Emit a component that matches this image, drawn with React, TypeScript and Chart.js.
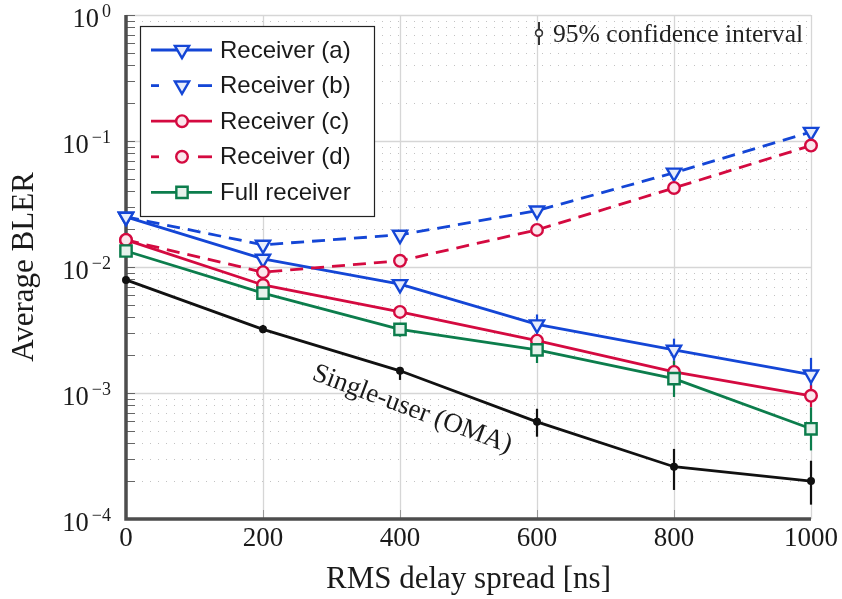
import { useEffect, useRef } from "react";
import { Chart, registerables } from "chart.js";
import { drawPoint } from "chart.js/helpers";

Chart.register(...registerables);

// RMS delay spread [ns]
const delaySpread = [0, 200, 400, 600, 800, 1000];
const xTickStep = 200;
const yDecades = [0, -1, -2, -3, -4];

// Average BLER per receiver
const receiverA = [0.025, 0.0116, 0.0073, 0.0035, 0.0022, 0.0014];
const receiverB = [0.025, 0.015, 0.018, 0.028, 0.056, 0.118];
const receiverC = [0.0164, 0.0072, 0.0044, 0.0026, 0.00147, 0.00095];
const receiverD = [0.0164, 0.0091, 0.0112, 0.0197, 0.0424, 0.092];
const fullReceiver = [0.0134, 0.0062, 0.0032, 0.0022, 0.0013, 0.00052];
const singleUser = [0.0079, 0.0032, 0.0015, 0.00059, 0.00026, 0.0002];

// 95% confidence intervals [low, high]
type CI = [number, number] | null;
const ciA: CI[] = [null, null, [0.0068, 0.0078], [0.0029, 0.0042], [0.0018, 0.0027], [0.00105, 0.0019]];
const ciB: CI[] = [null, null, null, null, null, null];
const ciC: CI[] = [null, null, null, [0.0023, 0.0029], [0.0012, 0.0018], [0.00077, 0.00115]];
const ciD: CI[] = [null, null, null, null, null, null];
const ciFull: CI[] = [null, null, [0.0028, 0.0036], [0.00173, 0.0027], [0.00093, 0.0018], [0.00035, 0.00077]];
const ciSingle: CI[] = [
  [0.0076, 0.0082],
  [0.0030, 0.00347],
  [0.00127, 0.00161],
  [0.00045, 0.00075],
  [0.00017, 0.00036],
  [0.00013, 0.00029],
];

const BLUE = "#1446d6";
const RED = "#d40a40";
const GREEN = "#0c7d4c";
const BLACK = "#111111";
const SERIF = "'Liberation Serif', 'DejaVu Serif', serif";
const SANS = "'Liberation Sans', 'DejaVu Sans', sans-serif";

type Series = {
  label: string;
  values: number[];
  ci: CI[];
  color: string;
  fill: string;
  dash: number[];
  pointStyle: string;
  rotation: number;
  radius: number;
  inLegend: boolean;
};

const series: Series[] = [
  { label: "Receiver (a)", values: receiverA, ci: ciA, color: BLUE, fill: "#e8edfb", dash: [], pointStyle: "triangle", rotation: 180, radius: 8.2, inLegend: true },
  { label: "Receiver (b)", values: receiverB, ci: ciB, color: BLUE, fill: "#e8edfb", dash: [13, 8], pointStyle: "triangle", rotation: 180, radius: 8.2, inLegend: true },
  { label: "Receiver (c)", values: receiverC, ci: ciC, color: RED, fill: "#fbe6ec", dash: [], pointStyle: "circle", rotation: 0, radius: 5.8, inLegend: true },
  { label: "Receiver (d)", values: receiverD, ci: ciD, color: RED, fill: "#fbe6ec", dash: [13, 8], pointStyle: "circle", rotation: 0, radius: 5.8, inLegend: true },
  { label: "Full receiver", values: fullReceiver, ci: ciFull, color: GREEN, fill: "#e6f2ec", dash: [], pointStyle: "rect", rotation: 0, radius: 8, inLegend: true },
  { label: "Single-user (OMA)", values: singleUser, ci: ciSingle, color: BLACK, fill: BLACK, dash: [], pointStyle: "circle", rotation: 0, radius: 2.8, inLegend: false },
];

function seg(ctx: CanvasRenderingContext2D, x1: number, y1: number, x2: number, y2: number) {
  ctx.beginPath();
  ctx.moveTo(x1, y1);
  ctx.lineTo(x2, y2);
  ctx.stroke();
}

const framePlugin = {
  id: "frame",
  beforeDatasetsDraw(chart: any) {
    const { ctx, chartArea: a } = chart;
    const xs = chart.scales.x;
    const ys = chart.scales.y;
    ctx.save();

    // minor dotted rows
    ctx.lineWidth = 1;
    ctx.strokeStyle = "#c2c2c2";
    ctx.setLineDash([1, 7]);
    for (const e of yDecades.slice(1)) {
      for (let m = 2; m <= 9; m++) {
        const py = Math.round(ys.getPixelForValue(m * Math.pow(10, e))) + 0.5;
        seg(ctx, a.left, py, a.right, py);
      }
    }
    ctx.setLineDash([]);

    // major grid
    ctx.strokeStyle = "#d6d6d6";
    ctx.lineWidth = 1.3;
    for (const e of yDecades) {
      const py = Math.round(ys.getPixelForValue(Math.pow(10, e))) + 0.5;
      seg(ctx, a.left, py, a.right, py);
    }
    for (let v = 0; v <= 1000; v += xTickStep) {
      const px = Math.round(xs.getPixelForValue(v)) + 0.5;
      seg(ctx, px, a.top, px, a.bottom);
    }

    // inner tick marks
    ctx.strokeStyle = "#666";
    ctx.lineWidth = 1;
    for (const e of yDecades) {
      for (let m = 1; m <= 9; m++) {
        const v = m * Math.pow(10, e);
        if (v > 1.0001) continue;
        const py = Math.round(ys.getPixelForValue(v)) + 0.5;
        seg(ctx, a.left, py, a.left + 9, py);
      }
    }
    ctx.strokeStyle = "#999";
    for (let v = xTickStep; v < 1000; v += xTickStep) {
      const px = Math.round(xs.getPixelForValue(v)) + 0.5;
      seg(ctx, px, a.bottom, px, a.bottom - 9);
    }

    // thick left and bottom axis lines
    ctx.strokeStyle = "#4d4d4d";
    ctx.lineWidth = 3.5;
    ctx.lineCap = "butt";
    ctx.beginPath();
    ctx.moveTo(a.left, a.top);
    ctx.lineTo(a.left, a.bottom);
    ctx.lineTo(a.right, a.bottom);
    ctx.stroke();

    // confidence intervals
    ctx.lineWidth = 2.2;
    for (const s of series) {
      ctx.strokeStyle = s.color;
      s.ci.forEach((c, i) => {
        if (!c) return;
        const px = xs.getPixelForValue(delaySpread[i]);
        seg(ctx, px, ys.getPixelForValue(c[0]), px, ys.getPixelForValue(c[1]));
      });
    }
    ctx.restore();
  },
  afterDatasetsDraw(chart: any) {
    const { ctx } = chart;
    const xs = chart.scales.x;
    const ys = chart.scales.y;
    ctx.save();

    // legend
    const lx = 140, ly = 26, lw = 234, lh = 190;
    ctx.fillStyle = "#fff";
    ctx.fillRect(lx, ly, lw, lh);
    ctx.strokeStyle = "#222";
    ctx.lineWidth = 1.2;
    ctx.strokeRect(lx + 0.5, ly + 0.5, lw, lh);
    const rows = series.filter((s) => s.inLegend);
    rows.forEach((s, i) => {
      const ry = 50 + i * 35.6;
      ctx.strokeStyle = s.color;
      ctx.lineWidth = 2.8;
      if (s.dash.length) {
        seg(ctx, 151, ry, 159, ry);
        seg(ctx, 198, ry, 212, ry);
      } else {
        seg(ctx, 151, ry, 212, ry);
      }
      ctx.fillStyle = s.fill;
      ctx.lineWidth = 2.4;
      drawPoint(ctx, { pointStyle: s.pointStyle as any, rotation: s.rotation, radius: s.radius, borderWidth: 2.4 } as any, 182, ry);
      ctx.fillStyle = "#1a1a1a";
      ctx.font = `24px ${SANS}`;
      ctx.textAlign = "left";
      ctx.textBaseline = "middle";
      ctx.fillText(s.label, 220, ry + 1);
    });

    // confidence interval note
    ctx.strokeStyle = "#333";
    ctx.lineWidth = 2;
    seg(ctx, 539, 22, 539, 45);
    ctx.fillStyle = "#fff";
    ctx.lineWidth = 1.6;
    ctx.beginPath();
    ctx.arc(539, 33, 3.4, 0, Math.PI * 2);
    ctx.fill();
    ctx.stroke();
    ctx.fillStyle = "#222";
    ctx.font = `25.6px ${SERIF}`;
    ctx.textAlign = "left";
    ctx.textBaseline = "alphabetic";
    ctx.fillText("95% confidence interval", 553, 42);

    // label along the single-user curve
    const x1 = xs.getPixelForValue(delaySpread[2]);
    const y1 = ys.getPixelForValue(singleUser[2]);
    const x2 = xs.getPixelForValue(delaySpread[3]);
    const y2 = ys.getPixelForValue(singleUser[3]);
    const ang = Math.atan2(y2 - y1, x2 - x1);
    const t = 0.17;
    const cx = x1 + (x2 - x1) * t - Math.sin(ang) * 32;
    const cy = y1 + (y2 - y1) * t + Math.cos(ang) * 32;
    ctx.translate(cx, cy);
    ctx.rotate(ang);
    ctx.fillStyle = "#1a1a1a";
    ctx.font = `27px ${SERIF}`;
    ctx.textAlign = "center";
    ctx.textBaseline = "middle";
    ctx.fillText("Single-user (OMA)", 0, 0);
    ctx.restore();
  },
  afterDraw(chart: any) {
    const { ctx, chartArea: a } = chart;
    const ys = chart.scales.y;
    ctx.save();
    ctx.fillStyle = "#1a1a1a";

    // decade labels with superscript exponents
    for (const e of yDecades) {
      const py = ys.getPixelForValue(Math.pow(10, e));
      const exp = e < 0 ? `\u2212${-e}` : `${e}`;
      ctx.font = `18px ${SERIF}`;
      const ew = ctx.measureText(exp).width;
      const right = 111;
      ctx.textAlign = "left";
      ctx.textBaseline = "alphabetic";
      ctx.fillText(exp, right - ew, py + 2);
      ctx.font = `26.5px ${SERIF}`;
      ctx.textAlign = "right";
      ctx.fillText("10", right - ew - 3, py + 12);
    }

    // axis titles
    ctx.font = `31px ${SERIF}`;
    ctx.textAlign = "center";
    ctx.textBaseline = "alphabetic";
    ctx.fillText("RMS delay spread [ns]", (a.left + a.right) / 2, 588);
    ctx.translate(33, (a.top + a.bottom) / 2);
    ctx.rotate(-Math.PI / 2);
    ctx.fillText("Average BLER", 0, 0);
    ctx.restore();
  },
};

export default function App() {
  const canvasRef = useRef<HTMLCanvasElement | null>(null);

  useEffect(() => {
    if (!canvasRef.current) return;
    const datasets = series
      .map((s) => ({
        label: s.label,
        data: delaySpread.map((x, i) => ({ x, y: s.values[i] })),
        borderColor: s.color,
        borderWidth: 2.8,
        borderDash: s.dash,
        pointStyle: s.pointStyle as any,
        pointRotation: s.rotation,
        pointRadius: s.radius,
        pointHoverRadius: s.radius,
        pointBorderWidth: 2.4,
        pointBorderColor: s.color,
        pointBackgroundColor: s.fill,
        tension: 0,
        fill: false,
        clip: false as any,
      }))
      .reverse();

    const chart = new Chart(canvasRef.current, {
      type: "line",
      data: { datasets },
      plugins: [framePlugin],
      options: {
        animation: false,
        responsive: true,
        maintainAspectRatio: false,
        layout: { padding: { left: 0, right: 30, top: 15, bottom: 0 } },
        plugins: { legend: { display: false }, tooltip: { enabled: false } },
        scales: {
          x: {
            type: "linear",
            min: 0,
            max: 1000,
            grid: { display: false, drawTicks: false },
            border: { display: false },
            ticks: {
              stepSize: xTickStep,
              autoSkip: false,
              maxRotation: 0,
              padding: 4,
              color: "#1a1a1a",
              font: { family: SERIF, size: 27 },
              callback: (v: any) => String(v),
            },
            afterFit: (s: any) => {
              s.height = 80;
            },
          },
          y: {
            type: "logarithmic",
            min: 1e-4,
            max: 1,
            grid: { display: false, drawTicks: false },
            border: { display: false },
            ticks: { display: false },
            afterFit: (s: any) => {
              s.width = 126;
            },
          },
        },
      },
    });
    return () => chart.destroy();
  }, []);

  return (
    <div style={{ position: "fixed", left: 0, top: 0, width: 842, height: 599, background: "#fff" }}>
      <canvas ref={canvasRef} />
    </div>
  );
}
